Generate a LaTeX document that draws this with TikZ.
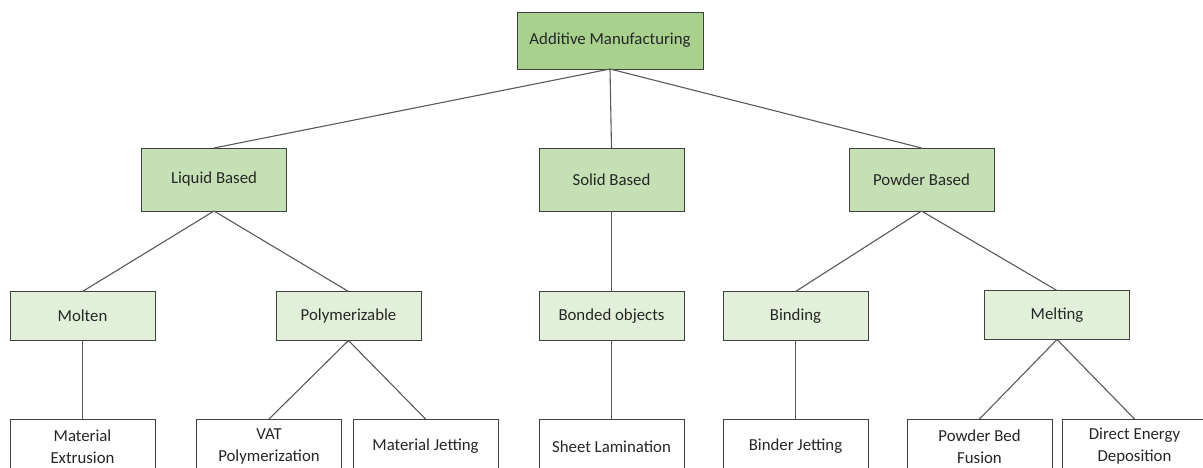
\documentclass[tikz,border=0pt]{standalone}
\usepackage{fontspec}
\setmainfont{Carlito}
\usepackage{tikz}
\definecolor{rootgreen}{HTML}{A9D18E}
\definecolor{midgreen}{HTML}{C5E0B4}
\definecolor{palegreen}{HTML}{E2F0D9}
\definecolor{edgegray}{HTML}{404040}
\definecolor{linkgray}{HTML}{595959}
\tikzstyle{box}=[rectangle, draw=edgegray, line width=1pt, inner sep=0pt, outer sep=0pt, align=center, font=\fontsize{16.8}{22}\selectfont, text=black!85]
\tikzstyle{rootbox}=[box, fill=rootgreen, minimum width=186, minimum height=57]
\tikzstyle{groupbox}=[box, fill=midgreen, minimum width=145, minimum height=63]
\tikzstyle{kindbox}=[box, fill=palegreen, minimum width=145, minimum height=49]
\tikzstyle{procbox}=[box, fill=white, minimum width=145, minimum height=55]
\tikzstyle{link}=[draw=linkgray, line width=1.1pt]

\begin{document}
\begin{tikzpicture}[x=1pt, y=-1pt]

	\clip (0,0) rectangle (1203,467);

	% root
	\node[rootbox] (am) at (610,40.5) {Additive Manufacturing};

	% material state
	\node[groupbox] (liquid) at (214,179.5) {Liquid Based};
	\node[groupbox] (solid) at (611.5,179.5) {Solid Based};
	\node[groupbox] (powder) at (921.5,179.5) {Powder Based};

	% mechanism
	\node[kindbox] (molten) at (82.5,316) {Molten};
	\node[kindbox] (polymer) at (348.5,316) {Polymerizable};
	\node[kindbox] (bonded) at (611.5,316) {Bonded objects};
	\node[kindbox] (binding) at (795.5,316) {Binding};
	\node[kindbox] (melting) at (1057,315) {Melting};

	% processes
	\node[procbox] (extrusion) at (82.5,446.5) {Material\\Extrusion};
	\node[procbox] (vat) at (269,446.5) {VAT\\Polymerization};
	\node[procbox] (jetting) at (425.5,446.5) {Material Jetting};
	\node[procbox] (sheet) at (611.5,446.5) {Sheet Lamination};
	\node[procbox] (binder) at (795.5,446.5) {Binder Jetting};
	\node[procbox] (pbf) at (979.5,446.5) {Powder Bed\\Fusion};
	\node[procbox] (ded) at (1134.5,446.5) {Direct Energy\\Deposition};

	\foreach \a/\b in {am/liquid, am/solid, am/powder,
			liquid/molten, liquid/polymer, solid/bonded, powder/binding, powder/melting,
			molten/extrusion, polymer/vat, polymer/jetting, bonded/sheet,
			binding/binder, melting/pbf, melting/ded}{
		\draw[link] (\a.south) -- (\b.north);
	}

\end{tikzpicture}
\end{document}
